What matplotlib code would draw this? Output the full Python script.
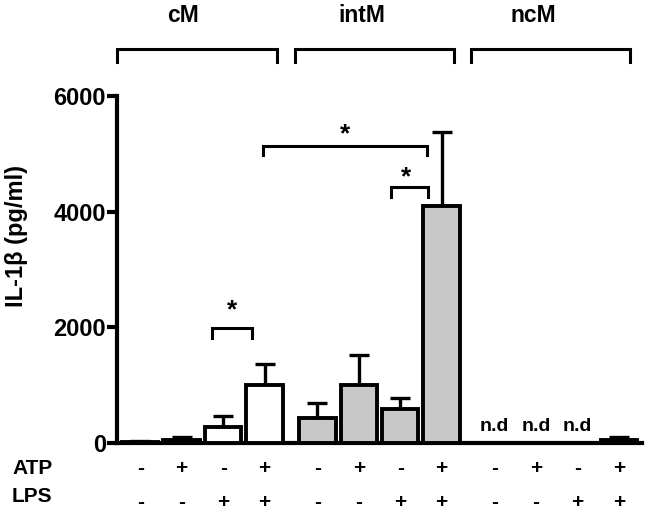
import matplotlib
matplotlib.use("Agg")
import matplotlib.pyplot as plt
from matplotlib.transforms import blended_transform_factory

plt.rcParams['font.family'] = ['Liberation Sans', 'DejaVu Sans']
plt.rcParams['font.weight'] = 'bold'

groups = ["cM", "intM", "ncM"]
atp = ["-", "+", "-", "+"]
lps = ["-", "-", "+", "+"]
values = [[20, 60, 270, 1000],
          [440, 1000, 580, 4100],
          [0, 0, 0, 50]]
errors = [[20, 40, 200, 360],
          [260, 530, 200, 1280],
          [0, 0, 0, 50]]
nd = [[False, False, False, False],
      [False, False, False, False],
      [True, True, True, False]]
colors = ["white", "#c8c8c8", "#c8c8c8"]
yticks = [0, 2000, 4000, 6000]

W, H = 647, 516
fig = plt.figure(figsize=(6.47, 5.16), dpi=100)
AX_L, AX_R, AX_B, AX_T = 117, 642, 443, 96
ax = fig.add_axes([AX_L/W, 1-AX_B/H, (AX_R-AX_L)/W, (AX_B-AX_T)/H])
XMIN, XMAX = -0.56, 12.1

def px2x(px):
    return XMIN + (px - AX_L) * (XMAX - XMIN) / (AX_R - AX_L)

def yv(py):
    return (AX_B - py) * 6000 / (AX_B - AX_T)

gap = 1.27
pos = []
for g in range(3):
    for i in range(4):
        pos.append(g*4 + i + g*(gap-1))

width = 0.88
for g in range(3):
    xs = pos[g*4:(g+1)*4]
    for i, x in enumerate(xs):
        if nd[g][i]:
            ax.text(x, 290, "n.d", ha="center", va="center", fontsize=14, fontweight="bold")
            continue
        ax.bar(x, values[g][i], width=width, color=colors[g], edgecolor="black",
               linewidth=2.8, zorder=3)
        ax.errorbar(x, values[g][i], yerr=[[0], [errors[g][i]]], fmt="none",
                    ecolor="black", elinewidth=2.4, capsize=7, capthick=2.4, zorder=2)

ax.set_xlim(XMIN, XMAX)
ax.set_ylim(0, 6000)
ax.set_yticks(yticks)
ax.set_yticklabels([str(v) for v in yticks], fontsize=17, fontweight="bold")
ax.set_xticks([])
for s in ["top", "right"]:
    ax.spines[s].set_visible(False)
ax.spines["left"].set_linewidth(3)
ax.spines["bottom"].set_linewidth(3)
ax.tick_params(axis="y", width=3, length=7, pad=1)
ax.set_ylabel("IL-1β (pg/ml)", fontsize=17, fontweight="bold")
ax.yaxis.set_label_coords(-(AX_L-28)/(AX_R-AX_L), (AX_B-236)/(AX_B-AX_T))

# ATP / LPS rows
tr = blended_transform_factory(ax.transData, fig.transFigure)
for g in range(3):
    for i in range(4):
        x = pos[g*4+i]
        ax.text(x, 1-468/H, atp[i], transform=tr, ha="center", va="center", fontsize=15, fontweight="bold")
        ax.text(x, 1-502/H, lps[i], transform=tr, ha="center", va="center", fontsize=15, fontweight="bold")
fig.text(12/W, 1-469/H, "ATP", ha="left", va="center", fontsize=15, fontweight="bold")
fig.text(12/W, 1-497/H, "LPS", ha="left", va="center", fontsize=15, fontweight="bold")

# group brackets at the top
br_px = [(117, 277), (295, 454), (471, 630)]
lab_px = [183, 362, 533]
for g in range(3):
    x0, x1 = px2x(br_px[g][0]), px2x(br_px[g][1])
    ax.plot([x0, x0, x1, x1], [yv(62), yv(49), yv(49), yv(62)], color="black", lw=2.2,
            clip_on=False, solid_joinstyle="miter")
    ax.text(px2x(lab_px[g]), yv(16), groups[g], ha="center", va="center", fontsize=16.5,
            fontweight="bold", clip_on=False)

# significance brackets
def sig(x0p, x1p, ytop, ybot, star_y, star_xp=None):
    x0, x1 = px2x(x0p), px2x(x1p)
    ax.plot([x0, x0, x1, x1], [yv(ybot), yv(ytop), yv(ytop), yv(ybot)], color="black", lw=2.2,
            solid_joinstyle="miter", zorder=4)
    sx = (x0 + x1) / 2 if star_xp is None else px2x(star_xp)
    ax.text(sx, yv(star_y), "*", ha="center", va="center", fontsize=19, fontweight="bold")

sig(212, 252, 328, 338, 310)
sig(263, 427, 146, 155, 134, 345)
sig(391, 428, 187, 197, 177, 406)

fig.savefig("out.png", dpi=100)
